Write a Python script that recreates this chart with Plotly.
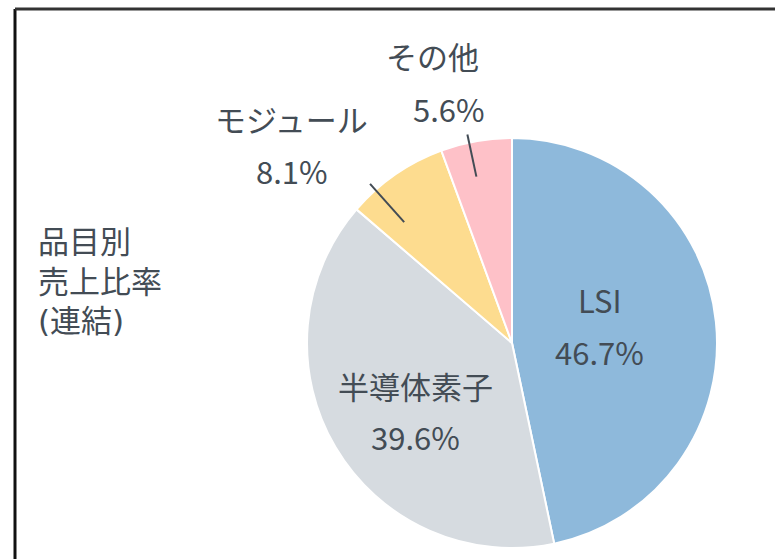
import math
import plotly.graph_objects as go

# ---- data ----
categories = ["LSI", "半導体素子", "モジュール", "その他"]
shares = [46.7, 39.6, 8.1, 5.6]
title_lines = ["品目別", "売上比率", "(連結)"]

# ---- style ----
colors = ["#8EB9DB", "#D6DBE0", "#FDDC8F", "#FEC1C8"]
text_color = "#434C55"
W, H = 775, 559
CX, CY, R = 512, 343, 205          # pie centre / radius in pixels
FONT = "Noto Sans CJK JP, Noto Sans, sans-serif"
TITLE_FONT = "DejaVu Sans, Noto Sans CJK JP, sans-serif"
LABEL_SIZE = 31

def px(x, y):
    return x / W, 1 - y / H

def polar(angle_deg, r):
    a = math.radians(angle_deg)
    return CX + r * math.sin(a), CY - r * math.cos(a)

fig = go.Figure()
x0, y1 = px(CX - R, CY - R)
x1, y0 = px(CX + R, CY + R)
fig.add_trace(go.Pie(
    labels=categories, values=shares, sort=False, direction="clockwise",
    rotation=0, marker=dict(colors=colors, line=dict(color="white", width=2)),
    textinfo="none", hoverinfo="label+percent", showlegend=False,
    domain=dict(x=[x0, x1], y=[y0, y1]),
))

# slice mid angles derived from the data
total = sum(shares)
mids, acc = [], 0.0
for v in shares:
    mids.append((acc + v / 2) / total * 360)
    acc += v

annotations = []
shapes = []

def add_text(x, y, text, size=LABEL_SIZE, xanchor="center", family=FONT):
    xp, yp = px(x, y)
    annotations.append(dict(x=xp, y=yp, xref="paper", yref="paper", xanchor=xanchor,
                            yanchor="middle", text=text, showarrow=False,
                            font=dict(size=size, color=text_color, family=family)))

# inside labels: (angle offset, radius fraction, half line gap)
inside = {0: (-5, 0.437, 26), 1: (-4.7, 0.574, 25.5)}
for i, (da, rf, g) in inside.items():
    x, y = polar(mids[i] + da, R * rf)
    add_text(x, y - g, categories[i])
    add_text(x, y + g, f"{shares[i]:.1f}%")

# outside labels with leader lines:
# (line angle offset, r_in, r_out, name offset, value offset)
outside = {2: (-7, 0.79, 1.04, (-79, -65), (-78, -13)),
           3: (-2, 0.83, 1.04, (-35, -79), (-18, -26))}
for i, (da, r_in, r_out, o1, o2) in outside.items():
    ang = mids[i] + da
    sx, sy = polar(ang, R * r_in)
    ex, ey = polar(ang, R * r_out)
    a, b = px(sx, sy)
    c, d = px(ex, ey)
    shapes.append(dict(type="line", xref="paper", yref="paper", x0=a, y0=b, x1=c, y1=d,
                       line=dict(color=text_color, width=2)))
    add_text(ex + o1[0], ey + o1[1], categories[i])
    add_text(ex + o2[0], ey + o2[1], f"{shares[i]:.1f}%")

# title at left
for k, line in enumerate(title_lines):
    add_text(36, 242 + 39.5 * k, line, size=31, xanchor="left", family=TITLE_FONT)

# frame (left and top edges visible)
fx0, fy0 = px(15, 9)
shapes.append(dict(type="line", xref="paper", yref="paper", x0=fx0, y0=-0.01, x1=fx0, y1=fy0,
                   line=dict(color="#111111", width=3)))
shapes.append(dict(type="line", xref="paper", yref="paper", x0=fx0, y0=fy0, x1=1.01, y1=fy0,
                   line=dict(color="#333333", width=3)))

fig.update_layout(width=W, height=H, margin=dict(l=0, r=0, t=0, b=0),
                  paper_bgcolor="white", plot_bgcolor="white",
                  annotations=annotations, shapes=shapes)
fig.write_html("out.html", config={"displayModeBar": False},
               post_script="document.body.style.margin='0px';")
